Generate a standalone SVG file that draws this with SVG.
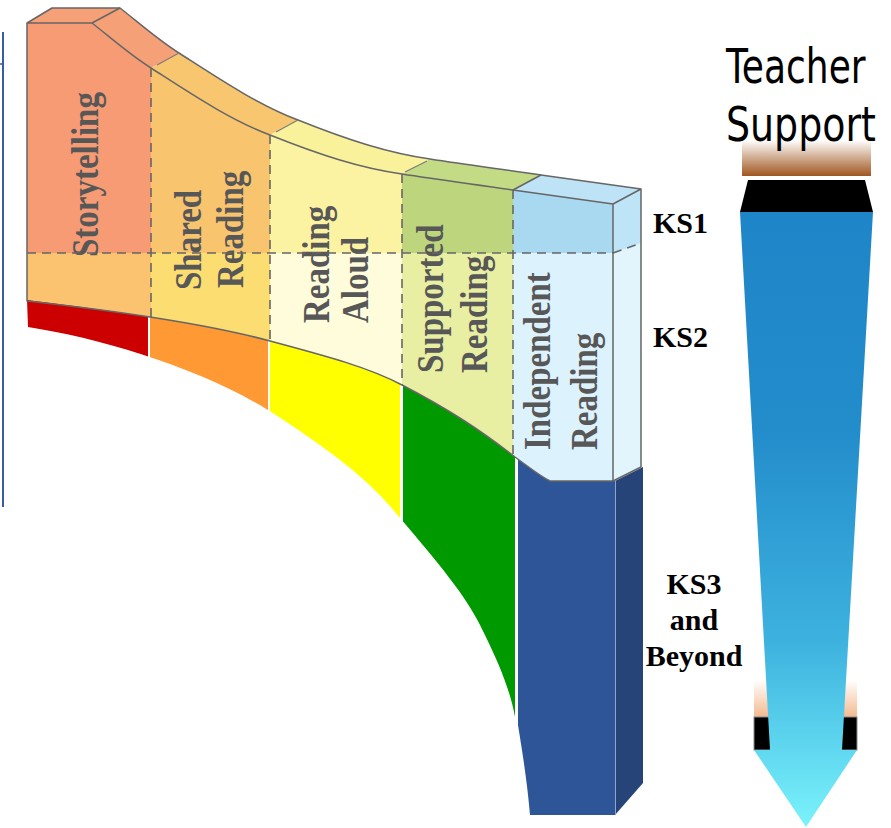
<svg xmlns="http://www.w3.org/2000/svg" width="891" height="828" viewBox="0 0 891 828">
<style>
.lbl{font-family:"Liberation Serif","Times New Roman",serif;font-weight:bold;font-size:33px;fill:#575757}
.ks{font-family:"Liberation Serif","Times New Roman",serif;font-weight:bold;font-size:30px;fill:#000}
.ts{font-family:"DejaVu Sans",sans-serif;font-size:48px;fill:#000}
.edge{fill:none;stroke:#666;stroke-width:1.5;stroke-linejoin:round}
.dash{fill:none;stroke:#666;stroke-width:1.6;stroke-dasharray:9,6}
.sdiv{stroke:#7a7a7a;stroke-width:1.1}
</style>
<defs>
<clipPath id="front"><path d="M27,23 L92,23 C110,37 130,55 151,68 C190,93 230,120 270,135 C320,155 360,168 402,174 C440,180 480,185 513,190 L613,204 L613,481 L550,481 C540,476 530,468 515,457 C480,430 450,410 402,385 C370,368 330,357 270,341 C200,322 90,308 27,301 Z"/></clipPath>
<clipPath id="strip"><path d="M27,23 L52,8 L120,8 C138,22 158,40 179,53 C218,78 258,105 298,120 C348,140 388,153 430,159 C468,165 508,170 541,175 L641,189 L613,204 L513,190 C480,185 440,180 402,174 C360,168 320,155 270,135 C230,120 190,93 151,68 C130,55 110,37 92,23 Z"/></clipPath>
<clipPath id="base"><path d="M27,300 C90,308 200,322 270,341 C330,357 370,368 402,385 C450,410 480,430 515,457 C530,468 540,476 550,481 L560,481 L560,815 L530,815 C527,780 521,745 515,717 C510,690 500,665 480,625 C465,595 440,565 400,518 C370,480 330,450 268,410 C200,368 100,338 28,327 Z"/></clipPath>
<linearGradient id="arrowGrad" gradientUnits="userSpaceOnUse" x1="0" y1="212" x2="0" y2="827">
<stop offset="0" stop-color="#1E86C8"/>
<stop offset="0.35" stop-color="#238CCB"/>
<stop offset="0.7" stop-color="#3DB2DF"/>
<stop offset="1" stop-color="#7AF3FB"/>
</linearGradient>
<linearGradient id="brown" x1="0" y1="0" x2="0" y2="1">
<stop offset="0" stop-color="#FFFFFF"/>
<stop offset="1" stop-color="#A0561F"/>
</linearGradient>
<linearGradient id="peach" x1="0" y1="0" x2="0" y2="1">
<stop offset="0" stop-color="#FFFFFF"/>
<stop offset="1" stop-color="#F3B98F"/>
</linearGradient>
</defs>

<rect width="891" height="828" fill="#FFFFFF"/>

<g id="left-bar">
<line x1="3" y1="32" x2="3" y2="507" stroke="#3A5BA8" stroke-width="2"/>
<line x1="0" y1="64" x2="3" y2="64" stroke="#3A5BA8" stroke-width="1.5"/>
</g>

<g id="storytelling">
<rect clip-path="url(#front)" x="0" y="0" width="151" height="253" fill="#F79B75"/>
<rect clip-path="url(#front)" x="0" y="253" width="151" height="250" fill="#FBC26F"/>
<polygon clip-path="url(#strip)" points="-400,-50 371,-50 -282,300 -400,300" fill="#F6A077"/>
<rect clip-path="url(#base)" x="0" y="290" width="148" height="120" fill="#CC0000"/>
<text class="lbl" transform="translate(98,257) rotate(-90) scale(1,1.16)">Storytelling</text>
</g>

<g id="shared-reading">
<rect clip-path="url(#front)" x="151" y="0" width="119" height="253" fill="#F8C46E"/>
<rect clip-path="url(#front)" x="151" y="253" width="119" height="250" fill="#FCDD72"/>
<polygon clip-path="url(#strip)" points="371,-50 615,-50 -38,300 -282,300" fill="#F8C66F"/>
<rect clip-path="url(#base)" x="150" y="300" width="118" height="150" fill="#FF9933"/>
<text class="lbl" transform="translate(201,290) rotate(-90) scale(1,1.16)">Shared</text>
<text class="lbl" transform="translate(243,288) rotate(-90) scale(1,1.16)">Reading</text>
</g>

<g id="reading-aloud">
<rect clip-path="url(#front)" x="270" y="0" width="132" height="253" fill="#FBF3A2"/>
<rect clip-path="url(#front)" x="270" y="253" width="132" height="250" fill="#FEFCDB"/>
<polygon clip-path="url(#strip)" points="615,-50 820,-50 167,300 -38,300" fill="#F9F29B"/>
<rect clip-path="url(#base)" x="270" y="330" width="130" height="200" fill="#FFFF00"/>
<text class="lbl" transform="translate(329,323) rotate(-90) scale(1,1.16)">Reading</text>
<text class="lbl" transform="translate(368,323) rotate(-90) scale(1,1.16)">Aloud</text>
</g>

<g id="supported-reading">
<rect clip-path="url(#front)" x="402" y="0" width="111" height="253" fill="#BDD67E"/>
<rect clip-path="url(#front)" x="402" y="253" width="111" height="250" fill="#E8EEA2"/>
<polygon clip-path="url(#strip)" points="820,-50 961,-50 308,300 167,300" fill="#C4DB86"/>
<rect clip-path="url(#base)" x="403" y="370" width="112" height="360" fill="#009900"/>
<text class="lbl" transform="translate(443,373) rotate(-90) scale(1,1.16)">Supported</text>
<text class="lbl" transform="translate(487,373) rotate(-90) scale(1,1.16)">Reading</text>
</g>

<g id="independent-reading">
<path d="M518,450 L615,450 L615,815 L530,815 C527,780 522,750 518,725 Z" fill="#2E5597"/>
<path d="M615,481 L643,467 L643,783 L615,815 Z" fill="#264478"/>
<line x1="615.5" y1="481" x2="615.5" y2="815" stroke="#8EA6CE" stroke-width="1"/>
<rect clip-path="url(#front)" x="513" y="0" width="100" height="253" fill="#A9D8F1"/>
<rect clip-path="url(#front)" x="513" y="253" width="100" height="250" fill="#DCF2FC"/>
<polygon clip-path="url(#strip)" points="961,-50 1200,-50 1200,300 308,300" fill="#BEE3F6"/>
<path d="M613,204 L641,189 L641,467 L613,481 Z" fill="#E2F5FD"/>
<path d="M613,204 L641,189 L641,243 L613,253 Z" fill="#BDE4F7"/>
<text class="lbl" transform="translate(550,450) rotate(-90) scale(1,1.16)">Independent</text>
<text class="lbl" transform="translate(597,450) rotate(-90) scale(1,1.16)">Reading</text>
</g>

<g id="outlines">
<path class="edge" d="M27,23 L92,23 C110,37 130,55 151,68 C190,93 230,120 270,135 C320,155 360,168 402,174 C440,180 480,185 513,190 L613,204 L613,481 L550,481 C540,476 530,468 515,457 C480,430 450,410 402,385 C370,368 330,357 270,341 C200,322 90,308 27,301 Z"/>
<path class="edge" d="M27,23 L52,8 L120,8 C138,22 158,40 179,53 C218,78 258,105 298,120 C348,140 388,153 430,159 C468,165 508,170 541,175 L641,189 L613,204"/>
<path class="edge" d="M92,23 L120,8"/>
<path class="edge" d="M641,189 L641,467 L613,481"/>
<line class="sdiv" x1="157" y1="65" x2="179" y2="53"/>
<line class="sdiv" x1="276" y1="132" x2="298" y2="120"/>
<line class="sdiv" x1="405" y1="172" x2="427" y2="161"/>
<line class="edge" x1="513" y1="190" x2="541" y2="175"/>
<line class="dash" x1="151" y1="68" x2="151" y2="317"/>
<line class="dash" x1="270" y1="135" x2="270" y2="341"/>
<line class="dash" x1="402" y1="174" x2="402" y2="385"/>
<line class="dash" x1="513" y1="190" x2="513" y2="456"/>
<line class="dash" x1="27" y1="253" x2="613" y2="253"/>
<line class="dash" x1="613" y1="253" x2="641" y2="243"/>
</g>

<g id="ks-labels">
<text class="ks" x="653" y="233">KS1</text>
<text class="ks" x="653" y="347">KS2</text>
<text class="ks" x="694" y="594" text-anchor="middle">KS3</text>
<text class="ks" x="694" y="630" text-anchor="middle">and</text>
<text class="ks" x="694" y="666" text-anchor="middle">Beyond</text>
</g>

<g id="teacher-support">
<rect x="742" y="140" width="129" height="36" fill="url(#brown)"/>
<text class="ts" transform="translate(726,83) scale(0.75,1)">Teacher</text>
<text class="ts" transform="translate(726,141) scale(0.79,1)">Support</text>
<rect x="754" y="680" width="103" height="37" fill="url(#peach)"/>
<rect x="754" y="717" width="103" height="33" fill="#000" stroke="#8a8a8a" stroke-width="1"/>
<polygon points="748,180 865,180 873,212 740,212" fill="#000"/>
<polygon points="740,212 873,212 842,750 857,750 806,827 754,750 770,750" fill="url(#arrowGrad)"/>
</g>
</svg>
